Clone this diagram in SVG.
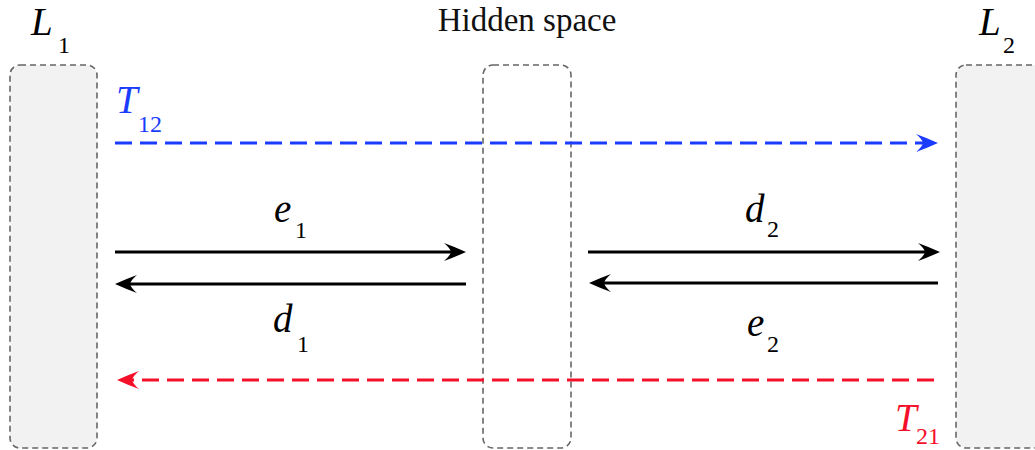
<svg xmlns="http://www.w3.org/2000/svg" width="1035" height="450" viewBox="0 0 1035 450" font-family="'Liberation Serif', 'DejaVu Serif', serif">
<style>
.box{stroke:#666;stroke-width:1.6;stroke-dasharray:6 4}
.lat{fill:#f2f2f2}
.hid{fill:#fff}
.it{font-style:italic;font-size:39px}
.sub{font-size:24px}
.lbl{font-size:33px;fill:#111}
.solid{stroke:#000;stroke-width:2.8;fill:none}
.dash{stroke-width:3;fill:none;stroke-dasharray:17 8}
</style>
<defs>
<marker id="ak" markerUnits="userSpaceOnUse" markerWidth="28" markerHeight="20" refX="18" refY="10" orient="auto" overflow="visible">
<path d="M26,10 Q15,5 4,1 Q10,6 11,10 Q10,14 4,19 Q15,15 26,10 Z" fill="#000"/>
</marker>
<marker id="ab" markerUnits="userSpaceOnUse" markerWidth="28" markerHeight="20" refX="18" refY="10" orient="auto" overflow="visible">
<path d="M26,10 Q15,5 4,1 Q10,6 11,10 Q10,14 4,19 Q15,15 26,10 Z" fill="#1a3cff"/>
</marker>
<marker id="ar" markerUnits="userSpaceOnUse" markerWidth="28" markerHeight="20" refX="18" refY="10" orient="auto" overflow="visible">
<path d="M26,10 Q15,5 4,1 Q10,6 11,10 Q10,14 4,19 Q15,15 26,10 Z" fill="#f5102a"/>
</marker>
</defs>
<rect width="1035" height="450" fill="#fff"/>
<g id="L1">
<rect class="box lat" x="10" y="65" width="87" height="383" rx="10"/>
<text class="it" x="31" y="35">L</text><text class="sub" x="58" y="53">1</text>
</g>
<g id="hidden">
<rect class="box hid" x="483" y="65" width="88" height="383" rx="10"/>
<text class="lbl" x="527" y="31" text-anchor="middle">Hidden space</text>
</g>
<g id="L2">
<rect class="box lat" x="956" y="65" width="100" height="383" rx="10"/>
<text class="it" x="979" y="35">L</text><text class="sub" x="1003" y="53">2</text>
</g>
<g id="connectors">
<path class="dash" stroke="#1a3cff" d="M115,143 L930,143" marker-end="url(#ab)"/>
<text class="it" x="116" y="113" fill="#1a3cff">T</text><text class="sub" x="138" y="132" fill="#1a3cff">12</text>
<path class="dash" stroke="#f5102a" d="M934,380 L125,380" marker-end="url(#ar)"/>
<text class="it" x="895" y="431" fill="#f5102a">T</text><text class="sub" x="916" y="444" fill="#f5102a">21</text>
<path class="solid" d="M115,252 L458,252" marker-end="url(#ak)"/>
<path class="solid" d="M466,284 L123,284" marker-end="url(#ak)"/>
<path class="solid" d="M588,252 L932,252" marker-end="url(#ak)"/>
<path class="solid" d="M938,283 L597,283" marker-end="url(#ak)"/>
<text class="it" x="274" y="222">e</text><text class="sub" x="295" y="238">1</text>
<text class="it" x="273" y="332">d</text><text class="sub" x="297" y="352">1</text>
<text class="it" x="745" y="222">d</text><text class="sub" x="767" y="237">2</text>
<text class="it" x="747" y="336">e</text><text class="sub" x="767" y="352">2</text>
</g>
</svg>
